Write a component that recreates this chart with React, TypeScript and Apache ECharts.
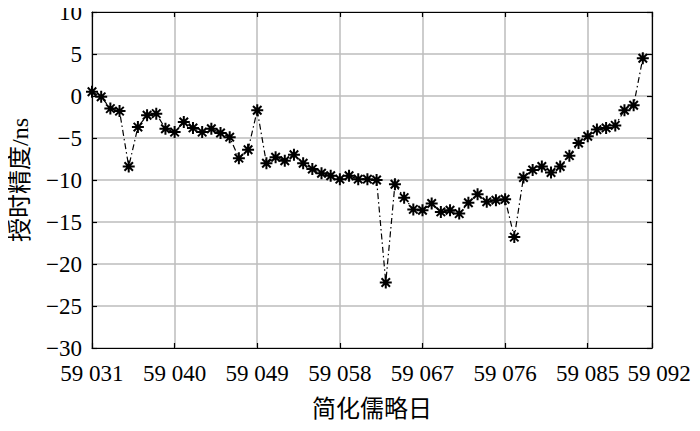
import React, { useEffect, useRef } from "react";
import * as echarts from "echarts";

const startDay = 59031;
const accuracy = [
  0.5, -0.1, -1.5, -1.8, -8.4, -3.7, -2.3, -2.1, -3.9, -4.3,
  -3.1, -3.8, -4.3, -3.9, -4.4, -4.9, -7.4, -6.4, -1.7, -8.0,
  -7.3, -7.7, -7.0, -8.0, -8.7, -9.2, -9.5, -9.9, -9.5, -9.9,
  -9.9, -10.0, -22.2, -10.5, -12.1, -13.5, -13.6, -12.8, -13.8, -13.6,
  -14.0, -12.7, -11.7, -12.6, -12.4, -12.3, -16.8, -9.7, -8.8, -8.4,
  -9.1, -8.4, -7.1, -5.6, -4.8, -4.0, -3.8, -3.5, -1.7, -1.1,
  4.5,
];
const days = accuracy.map((_, i) => startDay + i);
const xMin = 59031;
const xMax = 59092;
const xInterval = 9;
const yMin = -30;
const yMax = 10;
const yInterval = 5;
const xName = "简化儒略日";
const yName = "授时精度/ns";

const FONT = "'Liberation Serif', 'Noto Sans CJK SC', serif";
const asterisk = "path://M0,-10L0,10M-10,0L10,0M-7.07,-7.07L7.07,7.07M-7.07,7.07L7.07,-7.07";

export default function App() {
  const ref = useRef<HTMLDivElement>(null);
  useEffect(() => {
    if (!ref.current) return;
    const chart = echarts.init(ref.current, undefined, { renderer: "svg" });
    const fmtX = (v: number) => {
      const s = String(Math.round(v));
      const t = s.slice(0, 2) + " " + s.slice(2);
      return Math.round(v) === xMax ? "{last|" + t + "}" : t;
    };
    const fmtY = (v: number) => String(v).replace("-", "\u2212");
    const axisLine = { show: true, onZero: false, lineStyle: { color: "#000", width: 1.2 } };
    const tick = { show: true, inside: true, length: 5, lineStyle: { color: "#000", width: 1.2 } };
    const split = { show: true, lineStyle: { color: "#bdbdbd", width: 1.5 } };
    chart.setOption({
      animation: false,
      backgroundColor: "#fff",
      grid: { left: 87, right: 48, top: 12, bottom: 83, containLabel: false },
      xAxis: [
        {
          type: "value",
          min: xMin,
          max: xMax,
          interval: xInterval,
          position: "bottom",
          axisLine,
          axisTick: tick,
          splitLine: split,
          axisLabel: {
            formatter: fmtX,
            color: "#000",
            fontFamily: FONT,
            fontSize: 23,
            margin: 14,
            rich: {
              last: {
                color: "#000",
                fontFamily: FONT,
                fontSize: 23,
                padding: [0, 0, 0, 14],
              },
            },
          },
          name: xName,
          nameLocation: "middle",
          nameGap: 49,
          nameTextStyle: { color: "#000", fontFamily: FONT, fontSize: 24 },
        },
        {
          type: "value",
          min: xMin,
          max: xMax,
          interval: xInterval,
          position: "top",
          axisLine,
          axisTick: tick,
          splitLine: { show: false },
          axisLabel: { show: false },
        },
      ],
      yAxis: [
        {
          type: "value",
          min: yMin,
          max: yMax,
          interval: yInterval,
          position: "left",
          axisLine,
          axisTick: tick,
          splitLine: split,
          axisLabel: {
            formatter: fmtY,
            color: "#000",
            fontFamily: FONT,
            fontSize: 23,
            margin: 10,
          },
          name: yName,
          nameLocation: "middle",
          nameGap: 60,
          nameRotate: 90,
          nameTextStyle: { color: "#000", fontFamily: FONT, fontSize: 24 },
        },
        {
          type: "value",
          min: yMin,
          max: yMax,
          interval: yInterval,
          position: "right",
          axisLine,
          axisTick: tick,
          splitLine: { show: false },
          axisLabel: { show: false },
        },
      ],
      series: [
        {
          type: "line",
          xAxisIndex: 0,
          yAxisIndex: 0,
          data: days.map((d, i) => [d, accuracy[i]]),
          symbol: asterisk,
          symbolSize: 12,
          itemStyle: { color: "#000", borderColor: "#000", borderWidth: 2 },
          lineStyle: { color: "#000", width: 1.2, type: [6, 3, 1.5, 3] },
          z: 5,
        },
      ],
    });
    return () => chart.dispose();
  }, []);
  return <div ref={ref} style={{ width: 700, height: 431, margin: -8 }} />;
}
